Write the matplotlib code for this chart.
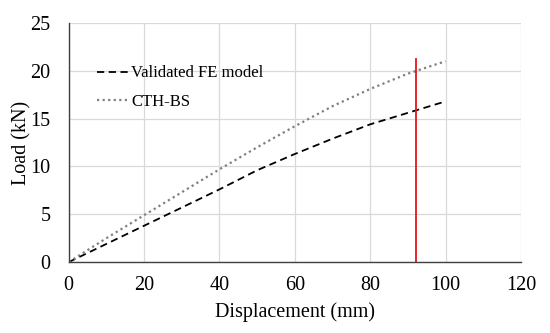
import matplotlib

matplotlib.use("Agg")
import matplotlib.pyplot as plt

# data
disp = [0, 10, 20, 30, 40, 50, 60, 70, 80, 90, 100]
fe_load = [0, 1.9, 3.8, 5.7, 7.6, 9.6, 11.3, 12.9, 14.4, 15.6, 16.8]
cth_load = [0, 2.5, 4.9, 7.3, 9.7, 12.0, 14.2, 16.3, 18.1, 19.7, 21.0]
limit_x = [92.2, 92.2]
limit_y = [0, 21.2]

plt.rcParams["font.family"] = ["Liberation Serif", "DejaVu Serif"]

fig = plt.figure(figsize=(5.5, 3.33), dpi=100)
ax = fig.add_axes([0.125, 0.213, 0.822, 0.718])

ax.plot(disp, fe_load, color="black", linestyle=(0, (4, 2.5)), linewidth=1.3, label="Validated FE model")
ax.plot(disp, cth_load, color="#808080", linestyle=(0, (1, 1.5)), linewidth=1.6, label="CTH-BS")
ax.plot(limit_x, limit_y, color="#e8141c", linewidth=1.3)

ax.set_xlim(0, 120)
ax.set_ylim(0, 25)
ax.set_xticks(range(0, 121, 20))
ax.set_yticks(range(0, 26, 5))
ax.grid(True, color="#d9d9d9", linewidth=0.9)
ax.set_axisbelow(True)
for s in ("top", "right"):
    ax.spines[s].set_visible(False)
for s in ("left", "bottom"):
    ax.spines[s].set_color("#404040")
    ax.spines[s].set_linewidth(1.0)
ax.tick_params(length=0, labelsize=14.5)
ax.tick_params(axis="x", pad=10)
ax.tick_params(axis="y", pad=13)
ax.set_xlabel("Displacement (mm)", fontsize=14.5, labelpad=5)
ax.set_ylabel("Load (kN)", fontsize=14.5, labelpad=-1)

ax.legend(loc="upper left", bbox_to_anchor=(0.03, 0.885), frameon=False, fontsize=12,
          handlelength=1.9, handletextpad=0.15, labelspacing=0.75)

fig.savefig("out.png", dpi=100)
